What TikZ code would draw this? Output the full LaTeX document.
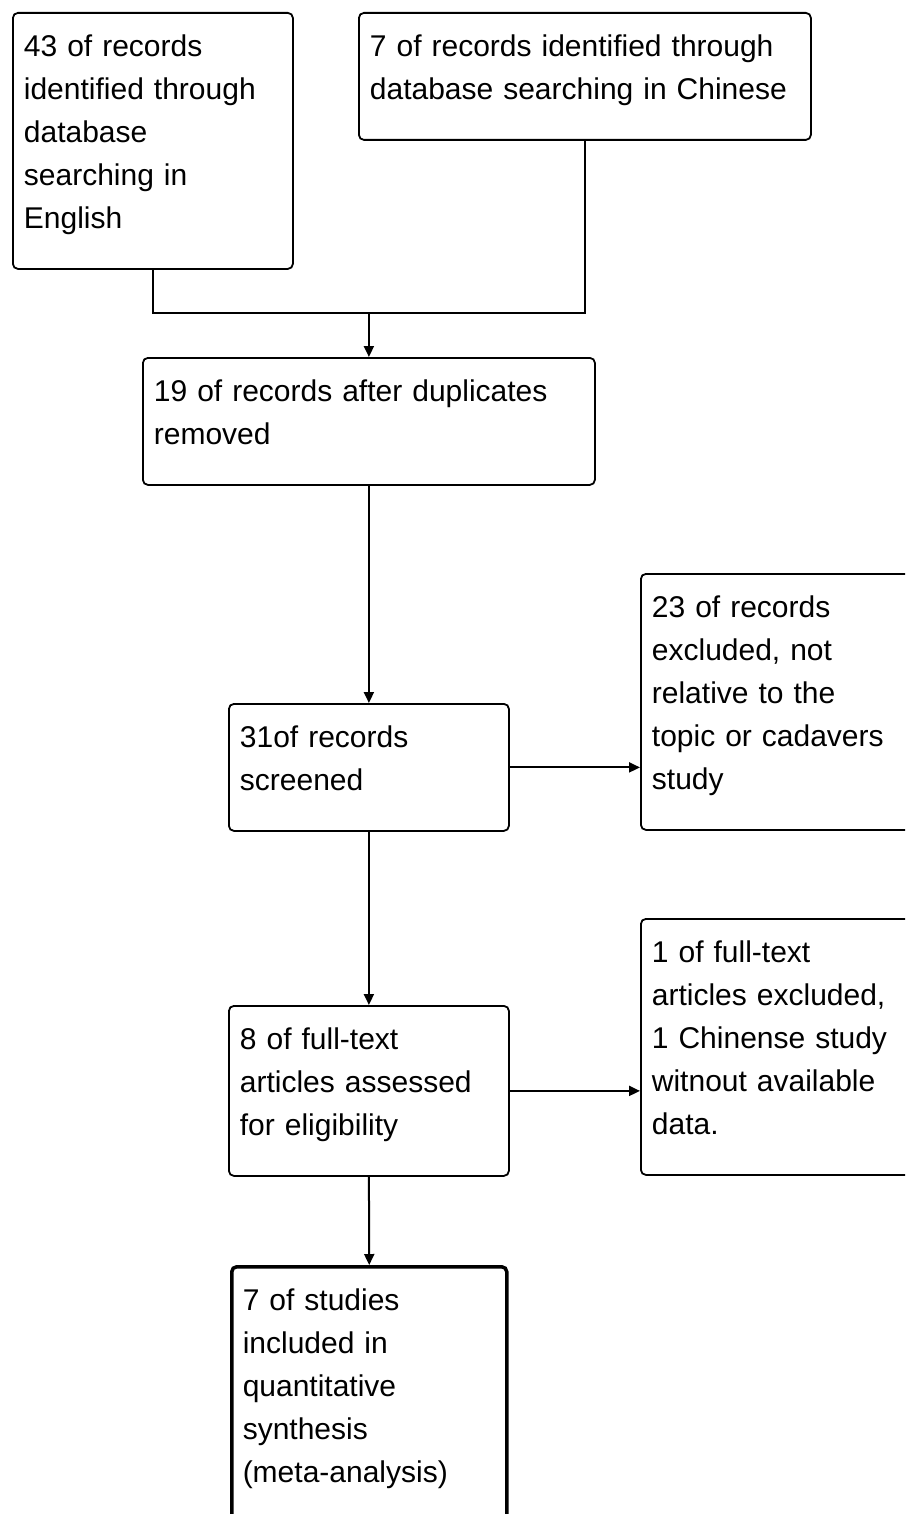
\documentclass[tikz,border=0pt]{standalone}
\usepackage{fontspec}
\setmainfont{Liberation Sans}
\usepackage{tikz}
\usetikzlibrary{arrows.meta}

\newcommand{\boxtop}{\rule{0pt}{30pt}}
\newcommand{\boxbot}{\rule[-26pt]{0pt}{26pt}}

\begin{document}
\begin{tikzpicture}[x = 1pt, y = -1pt,
    flowbox/.style = {draw, line width = 1.8pt, rounded corners = 5pt, anchor = north west,
        align = left, inner xsep = 11pt, inner ysep = 14pt, font = \fontsize{30}{43}\selectfont},
    flowline/.style = {line width = 2pt},
    flowarrow/.style = {flowline, -{Triangle[length = 11pt, width = 10pt]}}]
    \useasboundingbox (0,0) rectangle (905,1514);
    \clip (0,0) rectangle (905,1514);

    \node[flowbox, text width = 258pt] (english) at (12,12)
        {\boxtop 43 of records\\identified through\\database\\searching in\\English\boxbot};
    \node[flowbox, text width = 430pt] (chinese) at (358,12)
        {\boxtop 7 of records identified through\\database searching in Chinese\boxbot};
    \node[flowbox, text width = 430pt] (dedup) at (142,357)
        {\boxtop 19 of records after duplicates\\removed\boxbot};
    \node[flowbox, text width = 258pt] (screened) at (228,703)
        {\boxtop 31of records\\screened\boxbot};
    \node[flowbox, text width = 278pt] (excluded) at (640,573)
        {\boxtop 23 of records\\excluded, not\\relative to the\\topic or cadavers\\study\boxbot};
    \node[flowbox, text width = 258pt] (fulltext) at (228,1005)
        {\boxtop 8 of full-text\\articles assessed\\for eligibility\boxbot};
    \node[flowbox, text width = 278pt] (fullexcl) at (640,918)
        {\boxtop 1 of full-text\\articles excluded,\\1 Chinense study\\witnout available\\data.\boxbot};
    \node[flowbox, line width = 3.5pt, text width = 253pt] (included) at (230,1265)
        {\boxtop 7 of studies\\included in\\quantitative\\synthesis\\(meta-analysis)\boxbot};

    \coordinate (merge) at (dedup.north |- 0,313);
    \draw[flowline] (english.south) |- (merge) -| (chinese.south);
    \draw[flowarrow] (merge) -- (dedup.north);
    \draw[flowarrow] (dedup.south) -- (screened.north);
    \draw[flowarrow] (screened.east) -- (excluded.west |- screened.east);
    \draw[flowarrow] (screened.south) -- (fulltext.north);
    \draw[flowarrow] (fulltext.east) -- (fullexcl.west |- fulltext.east);
    \draw[flowarrow] (fulltext.south) -- (included.north);

\end{tikzpicture}
\end{document}
